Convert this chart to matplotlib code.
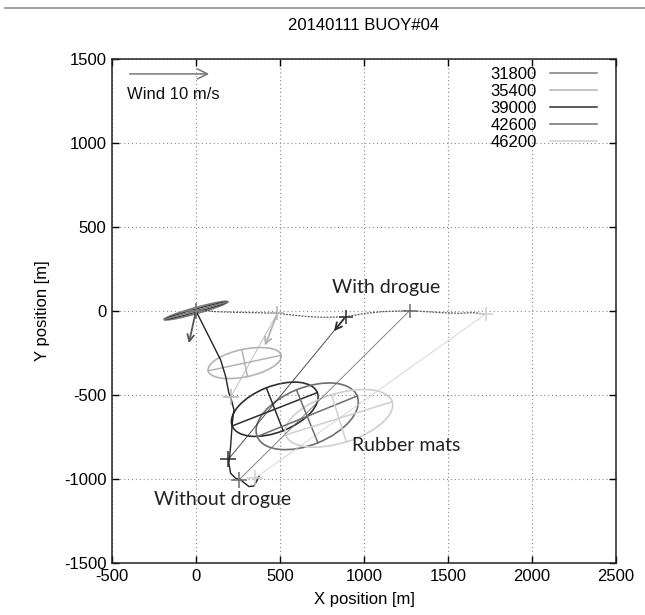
import numpy as np
import matplotlib
matplotlib.use("Agg")
import matplotlib.pyplot as plt
from matplotlib.patches import Ellipse
from matplotlib.lines import Line2D

plt.rcParams['font.family'] = ['Liberation Sans', 'DejaVu Sans']
plt.rcParams['axes.unicode_minus'] = False

# Times of the snapshots [s] and the grey shade used for each
times = [31800, 35400, 39000, 42600, 46200]
shades = ['#7a7a7a', '#b4b4b4', '#2e2e2e', '#6e6e6e', '#cfcfcf']

# Buoy without drogue: track and positions at each time
free_track_x = [0, 47, 97, 147, 177, 196, 206, 226, 216, 206, 196, 206, 236, 266, 315, 345, 365, 375]
free_track_y = [0, -93, -192, -292, -391, -490, -510, -589, -669, -808, -906, -966, -996, -1006, -1045, -1042, -1006, -986]
free_x = [0, 206, 193, 256, 351]
free_y = [0, -514, -883, -1006, -996]

# Buoy with drogue: track and positions at each time
drog_track_x = [-2, 117, 236, 355, 484, 573, 673, 772, 891, 1010, 1109, 1272, 1367, 1466, 1565, 1645, 1724]
drog_track_y = [10, -4, -8, -10, -14, -24, -34, -38, -34, -14, -4, 2, -4, -10, -14, -10, -18]
drog_x = [0, 484, 891, 1272, 1724]
drog_y = [0, -14, -34, 2, -18]

# Rubber mat spread: ellipse centre, semi axes and tilt for each time
ell_x = [0, 290, 469, 662, 851]
ell_y = [2, -310, -585, -627, -639]
ell_a = [196, 222, 272, 321, 332]
ell_b = [18, 82, 137, 170, 147]
ell_ang = [15.6, 12.0, 21.4, 22.1, 17.3]

# Drift vectors drawn at the first three times (start -> end)
vec_x0 = [0, 484, 891]
vec_y0 = [0, -14, -34]
vec_x1 = [-46, 405, 811]
vec_y1 = [-208, -222, -133]

# Wind reference arrow
wind_x = [-411, 95]
wind_y = [1411, 1411]

fig = plt.figure(figsize=(6.45, 6.15), dpi=100)
ax = fig.add_axes([0.1736, 0.0846, 0.7814, 0.8195])

ax.set_xlim(-500, 2500)
ax.set_ylim(-1500, 1500)
ax.set_xticks(np.arange(-500, 2501, 500))
ax.set_yticks(np.arange(-1500, 1501, 500))
ax.grid(True, linestyle=(0, (1, 2.5)), color='#888888', linewidth=0.8)
ax.tick_params(direction='in', length=5, width=1, top=True, right=True,
               labelsize=12, pad=4)
for s in ax.spines.values():
    s.set_linewidth(1.1)
    s.set_color('#222222')

# link lines between the two buoys at each time
for i in range(1, len(times)):
    ax.plot([free_x[i], drog_x[i]], [free_y[i], drog_y[i]], color=shades[i], lw=0.7, alpha=0.85)

# ellipses with their major / minor axes
for i in range(len(times)):
    e = Ellipse((ell_x[i], ell_y[i]), 2 * ell_a[i], 2 * ell_b[i], angle=ell_ang[i],
                fill=False, edgecolor=shades[i], lw=1.2)
    ax.add_patch(e)
    t = np.deg2rad(ell_ang[i])
    ax.plot([ell_x[i] - ell_a[i] * np.cos(t), ell_x[i] + ell_a[i] * np.cos(t)],
            [ell_y[i] - ell_a[i] * np.sin(t), ell_y[i] + ell_a[i] * np.sin(t)],
            color=shades[i], lw=1.1)
    ax.plot([ell_x[i] + ell_b[i] * np.sin(t), ell_x[i] - ell_b[i] * np.sin(t)],
            [ell_y[i] - ell_b[i] * np.cos(t), ell_y[i] + ell_b[i] * np.cos(t)],
            color=shades[i], lw=1.1)
# the first ellipse is very flat, draw a second inner outline
ax.add_patch(Ellipse((ell_x[0], ell_y[0]), 2 * ell_a[0], ell_b[0], angle=ell_ang[0],
                     fill=False, edgecolor='#333333', lw=0.9))

# tracks
ax.plot(free_track_x, free_track_y, color='#222222', lw=1.0)
ax.plot(drog_track_x, drog_track_y, color='#555555', lw=0.9, linestyle=(0, (1.5, 1)))

# markers
for i in range(len(times)):
    ax.plot(free_x[i], free_y[i], marker='+', ms=12, mew=1.1, color=shades[i], ls='none')
    ax.plot(drog_x[i], drog_y[i], marker='+', ms=10, mew=1.1, color=shades[i], ls='none')

# drift vectors
for i in range(len(vec_x0)):
    ax.annotate('', xy=(vec_x1[i], vec_y1[i]), xytext=(vec_x0[i], vec_y0[i]),
                arrowprops=dict(arrowstyle='->', color=shades[i] if i else '#555555',
                                lw=1.3, mutation_scale=12))

# wind arrow
ax.annotate('', xy=(wind_x[1], wind_y[1]), xytext=(wind_x[0], wind_y[0]),
            arrowprops=dict(arrowstyle='->', color='#777777', lw=1.1, mutation_scale=18))
ax.text(-411, 1286, 'Wind 10 m/s', fontsize=12, va='center', ha='left', color='#111111')

# labels in the plot
ax.text(810, 137, 'With drogue', fontsize=14, family=['Lato', 'DejaVu Sans'],
        va='center', color='#222222')
ax.text(929, -798, 'Rubber mats', fontsize=14, family=['Lato', 'DejaVu Sans'],
        va='center', color='#222222')
ax.text(-250, -1125, 'Without drogue', fontsize=14, family=['Lato', 'DejaVu Sans'],
        va='center', color='#222222')

handles = [Line2D([], [], color=c, lw=1.1) for c in shades]
ax.legend(handles, [str(t) for t in times], loc='upper right', bbox_to_anchor=(0.978, 1.0),
          frameon=False, markerfirst=False, fontsize=12, handlelength=2.8,
          handletextpad=0.8, labelspacing=0.12, borderaxespad=0.2, borderpad=0.3)

ax.set_title('20140111 BUOY#04', fontsize=12, pad=21)
ax.set_xlabel('X position [m]', fontsize=12, labelpad=6)
ax.set_ylabel('Y position [m]', fontsize=12, labelpad=10)

# rule along the top of the page
fig.add_artist(Line2D([0.008, 1.0], [1 - 7.5 / 615] * 2, color='#999999', lw=1.3))

fig.savefig('out.png', dpi=100)
